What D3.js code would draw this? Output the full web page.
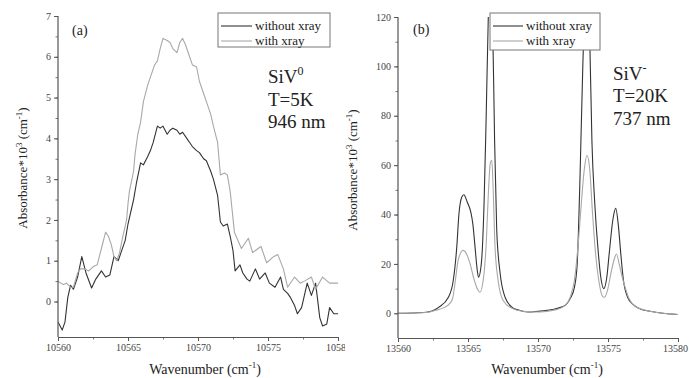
<!DOCTYPE html>
<html><head><meta charset="utf-8">
<script src="https://cdn.jsdelivr.net/npm/d3@7"></script>
<style>
html,body{margin:0;padding:0;background:#fff;}
svg{display:block;}
</style></head>
<body>
<svg id="c" width="689" height="378" style="font-family:'Liberation Serif'"></svg>
<script>
// ---------- Panel (a): SiV0, 946 nm ----------
const aNoXrayX = [10560.0,10560.3,10560.5,10560.7,10560.9,10561.1,10561.4,10561.7,10562.0,10562.4,10562.7,10563.1,10563.4,10563.7,10564.0,10564.3,10564.5,10564.8,10565.0,10565.2,10565.4,10565.6,10565.9,10566.1,10566.4,10566.6,10566.8,10567.1,10567.3,10567.5,10567.8,10568.0,10568.2,10568.5,10568.7,10568.9,10569.2,10569.4,10569.6,10569.9,10570.1,10570.4,10570.6,10570.9,10571.1,10571.4,10571.6,10571.8,10572.1,10572.3,10572.5,10572.65,10573.0,10573.2,10573.5,10573.7,10574.1,10574.4,10574.8,10575.1,10575.5,10575.9,10576.1,10576.4,10576.6,10576.9,10577.1,10577.4,10577.8,10578.1,10578.4,10578.7,10578.9,10579.2,10579.4,10579.7,10580.0];
const aNoXrayY = [-0.5,-0.7,-0.5,0.1,0.4,0.3,0.6,1.1,0.7,0.33,0.55,0.75,0.6,0.65,1.1,1.0,1.2,1.5,1.9,2.2,2.5,2.9,3.4,3.35,3.55,3.7,3.9,4.3,4.25,4.3,4.1,4.2,4.25,4.2,4.1,4.15,4.0,3.9,3.8,3.7,3.65,3.5,3.45,3.2,3.0,2.6,1.95,1.85,1.9,1.6,1.25,0.75,0.9,0.7,0.55,0.5,0.8,0.55,0.7,0.45,0.35,0.6,0.3,0.2,0.1,-0.1,-0.3,-0.15,0.45,0.15,0.45,-0.4,-0.6,-0.55,-0.15,-0.3,-0.3];
const aXrayX = [10560.0,10560.2,10560.4,10560.6,10560.9,10561.1,10561.4,10561.6,10561.9,10562.2,10562.5,10562.8,10563.1,10563.4,10563.6,10563.8,10564.0,10564.2,10564.4,10564.6,10564.9,10565.0,10565.1,10565.4,10565.5,10565.7,10565.9,10566.1,10566.4,10566.6,10566.9,10567.1,10567.3,10567.5,10567.8,10568.0,10568.2,10568.5,10568.7,10568.9,10569.1,10569.4,10569.6,10569.9,10570.1,10570.4,10570.6,10570.9,10571.1,10571.4,10571.6,10571.9,10572.1,10572.3,10572.6,10573.1,10573.6,10573.9,10574.5,10574.9,10575.4,10575.7,10576.1,10576.4,10576.9,10577.3,10577.6,10578.1,10578.4,10578.9,10579.4,10580.0];
const aXrayY = [0.5,0.45,0.42,0.45,0.35,0.35,0.7,0.8,0.8,0.75,0.85,0.9,1.3,1.7,1.6,1.4,1.1,1.0,1.2,1.55,2.0,2.4,2.7,3.2,3.6,4.1,4.4,4.9,5.3,5.5,5.8,5.9,6.2,6.45,6.4,6.35,6.2,6.1,6.35,6.45,6.3,6.0,5.8,5.75,5.4,5.1,4.9,4.6,4.3,3.9,3.1,3.15,3.1,2.7,1.7,1.3,1.55,1.2,1.35,0.95,1.1,1.15,0.8,0.35,0.6,0.45,0.5,0.6,0.3,0.6,0.45,0.45];
const aXTicks = [10560,10565,10570,10575,10580];
const aYTicks = [0,1,2,3,4,5,6,7];

// ---------- Panel (b): SiV-, 737 nm ----------
const bNoXrayX = [13560,13561,13562,13562.9,13563.6,13563.95,13564.2,13564.35,13564.55,13564.7,13564.95,13565.2,13565.35,13565.5,13565.65,13565.75,13565.95,13566.15,13566.3,13566.45,13566.6,13566.75,13566.9,13567.05,13567.3,13567.65,13568.15,13568.6,13569.3,13570.0,13571.0,13571.5,13572.0,13572.3,13572.6,13572.8,13573.0,13573.2,13573.45,13573.7,13573.85,13574.05,13574.3,13574.5,13574.7,13574.9,13575.1,13575.35,13575.55,13575.75,13575.9,13576.1,13576.4,13576.8,13577.2,13578.0,13578.9,13579.5,13580];
const bNoXrayY = [0,0.1,0.4,2.4,6.5,13.4,27,40,47,48,45,41,36,27,18,14.6,20,45,80,120,135,120,70,34,16,6.5,2.4,1.3,0.5,0.8,1.5,2.2,3.5,6,10.5,20,55,100,135,110,70,45,25,14,10,14,25,38,42.5,35,25,13.5,6.5,3.5,2,0.8,0,-0.3,-0.5];
const bXrayX = [13560,13561,13562,13562.7,13563.3,13563.7,13563.9,13564.1,13564.3,13564.65,13564.9,13565.15,13565.45,13565.7,13565.85,13566.1,13566.3,13566.45,13566.6,13566.7,13566.8,13566.93,13567.15,13567.5,13568.15,13569.0,13569.8,13570.6,13571.3,13571.9,13572.3,13572.6,13572.9,13573.1,13573.3,13573.5,13573.7,13573.9,13574.1,13574.35,13574.6,13574.75,13574.95,13575.2,13575.45,13575.6,13575.8,13576.0,13576.2,13576.5,13576.9,13577.5,13578.5,13579.3,13580];
const bXrayY = [0,0.1,0.3,1.2,2.4,4,6,13.4,21.5,25.5,24,20,13.4,9.5,8.5,14,28,48,61,62,50,27,13.4,5.3,2,0.8,0.5,0.8,1.5,3,6.5,13.4,30,45,58,64,58,40,25,13,7,6.5,9,16,22,24,20,15,11,6,3,1.5,0.3,-0.2,-0.5];
const bXTicks = [13560,13565,13570,13575,13580];
const bYTicks = [0,20,40,60,80,100,120];

const legendLabels = ["without xray","with xray"];
const seriesColors = ["#333","#a8a8a8"];

const svg = d3.select("#c");
const defs = svg.append("defs");

function panel(cfg){
  const g = svg.append("g").attr("clip-path", cfg.clip ? `url(#${cfg.clip})` : null);
  const x = d3.scaleLinear().domain(cfg.xDomain).range(cfg.xRange);
  const y = d3.scaleLinear().domain(cfg.yDomain).range(cfg.yRange);
  const yTop = y(cfg.yTicks[cfg.yTicks.length-1]);
  const cid = "plot-"+cfg.id;
  defs.append("clipPath").attr("id", cid).append("rect")
    .attr("x", cfg.xRange[0]).attr("y", yTop)
    .attr("width", cfg.xRange[1]-cfg.xRange[0]).attr("height", cfg.yRange[0]-yTop);

  const line = d3.line().x(d=>x(d[0])).y(d=>y(d[1])).curve(cfg.curve);
  const lg = g.append("g").attr("clip-path", `url(#${cid})`);
  cfg.series.forEach((s,i)=>{
    lg.append("path").datum(d3.zip(s.x, s.y))
      .attr("fill","none").attr("stroke",seriesColors[i]).attr("stroke-width",1.1)
      .attr("stroke-linejoin","round").attr("d", line);
  });

  // minor ticks
  const xMinor = d3.range(cfg.xDomain[0], cfg.xDomain[1]+1e-9, cfg.xMinorStep);
  const yMinor = d3.range(cfg.yTicks[0], cfg.yTicks[cfg.yTicks.length-1]+1e-9, cfg.yMinorStep);
  const xb = g.append("g").attr("transform",`translate(0,${cfg.yRange[0]})`)
    .call(d3.axisBottom(x).tickValues(xMinor).tickSize(2.5).tickSizeOuter(0).tickFormat(""));
  const ya = g.append("g").attr("transform",`translate(${cfg.xRange[0]},0)`)
    .call(d3.axisLeft(y).tickValues(yMinor).tickSize(2.5).tickSizeOuter(0).tickFormat(""));
  [xb,ya].forEach(a=>{a.select(".domain").remove(); a.selectAll("line").attr("stroke","#777");});

  // major axes
  const xa = g.append("g").attr("transform",`translate(0,${cfg.yRange[0]})`)
    .call(d3.axisBottom(x).tickValues(cfg.xTicks).tickSize(4).tickSizeOuter(0).tickPadding(3).tickFormat(d3.format("d")));
  const yaa = g.append("g").attr("transform",`translate(${cfg.xRange[0]},0)`)
    .call(d3.axisLeft(y).tickValues(cfg.yTicks).tickSize(4).tickSizeOuter(0).tickPadding(3).tickFormat(d3.format("d")));
  yaa.select(".domain").attr("d", `M0,${cfg.yRange[0]}V${yTop}`);
  [xa,yaa].forEach(a=>{
    a.select(".domain").attr("stroke","#555").attr("stroke-width",1.2);
    a.selectAll("line").attr("stroke","#555");
    a.selectAll("text").attr("font-size",10).attr("fill","#444");
  });
  if (cfg.lastXLabelShift) {
    xa.selectAll(".tick text").filter(d=>d===cfg.xTicks[cfg.xTicks.length-1]).attr("dx", cfg.lastXLabelShift);
  }

  // axis titles
  const yt = g.append("text").attr("transform",`translate(${cfg.yTitleX},${cfg.yTitleY}) rotate(-90)`)
    .attr("text-anchor","middle").attr("font-size",13);
  yt.append("tspan").text("Absorbance*10");
  yt.append("tspan").attr("dy",-5).attr("font-size",9).text("3");
  yt.append("tspan").attr("dy",5).text(" (cm");
  yt.append("tspan").attr("dy",-5).attr("font-size",9).text("-1");
  yt.append("tspan").attr("dy",5).text(")");

  const xt = g.append("text").attr("x",cfg.xTitleX).attr("y",374).attr("text-anchor","middle").attr("font-size",14);
  xt.append("tspan").text("Wavenumber (cm");
  xt.append("tspan").attr("dy",-6).attr("font-size",9).text("-1");
  xt.append("tspan").attr("dy",6).text(")");

  // panel tag
  g.append("text").attr("x",cfg.tagX).attr("y",cfg.tagY).attr("font-size",14).text(cfg.tag);

  // annotation
  const t1 = g.append("text").attr("x",cfg.annX).attr("y",cfg.annY[0]).attr("font-size",19);
  t1.append("tspan").text("SiV");
  t1.append("tspan").attr("dy",-8).attr("font-size",12).text(cfg.charge);
  g.append("text").attr("x",cfg.annX).attr("y",cfg.annY[1]).attr("font-size",19).text(cfg.temp);
  g.append("text").attr("x",cfg.annX).attr("y",cfg.annY[2]).attr("font-size",19).text(cfg.wl);

  // legend
  const L = cfg.legend;
  g.append("rect").attr("x",L.x).attr("y",L.y).attr("width",L.w).attr("height",L.h)
    .attr("fill","#fff").attr("stroke","#777").attr("stroke-width",1);
  legendLabels.forEach((lab,i)=>{
    const yy = L.y + 13 + i*15;
    g.append("line").attr("x1",L.x+3).attr("x2",L.x+L.lineW).attr("y1",yy).attr("y2",yy)
      .attr("stroke",seriesColors[i]).attr("stroke-width",1.1);
    g.append("text").attr("x",L.x+L.lineW+3).attr("y",yy+4).attr("font-size",13).text(lab);
  });
}

defs.append("clipPath").attr("id","panelA").append("rect").attr("x",0).attr("y",0).attr("width",345).attr("height",378);

panel({
  id:"a", clip:"panelA",
  xDomain:[10560,10580], xRange:[58,338],
  yDomain:[-0.87,7], yRange:[337,16],
  xTicks:aXTicks, yTicks:aYTicks, xMinorStep:2.5, yMinorStep:0.5,
  curve:d3.curveLinear,
  series:[{x:aNoXrayX,y:aNoXrayY},{x:aXrayX,y:aXrayY}],
  yTitleX:27, yTitleY:168, xTitleX:205,
  tag:"(a)", tagX:72, tagY:35,
  annX:268, annY:[83,106,128], charge:"0", temp:"T=5K", wl:"946 nm",
  legend:{x:218,y:13,w:112,h:34,lineW:34}
});
panel({
  id:"b",
  xDomain:[13560,13580], xRange:[398,678],
  yDomain:[-10,120], yRange:[338,17],
  xTicks:bXTicks, yTicks:bYTicks, xMinorStep:2.5, yMinorStep:10,
  curve:d3.curveMonotoneX,
  series:[{x:bNoXrayX,y:bNoXrayY},{x:bXrayX,y:bXrayY}],
  yTitleX:357, yTitleY:170, xTitleX:547,
  tag:"(b)", tagX:413, tagY:34,
  annX:613, annY:[80,102,125], charge:"-", temp:"T=20K", wl:"737 nm",
  legend:{x:490,y:13,w:110,h:37,lineW:33},
  lastXLabelShift:-3
});

// serif face for every text
svg.selectAll("g").attr("font-family", null);
svg.selectAll("text, tspan").style("font-family", "'Liberation Serif', 'Times New Roman', serif", "important");
svg.selectAll("text").each(function(){ if(!this.getAttribute("fill")) this.setAttribute("fill","#222"); });
</script>
</body></html>
